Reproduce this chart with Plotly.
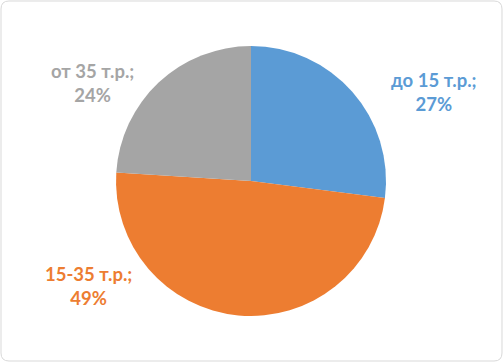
import plotly.graph_objects as go

categories = ["до 15 т.р.", "15-35 т.р.", "от 35 т.р."]
values = [27, 49, 24]
colors = ["#5B9BD5", "#ED7D31", "#A5A5A5"]
label_pos = [(434, 92), (88, 286), (92, 83)]  # pixel centres of label blocks

W, H = 503, 362
fig = go.Figure()
fig.add_trace(go.Pie(
    labels=categories, values=values, sort=False, direction="clockwise",
    rotation=0, textinfo="none", hoverinfo="label+percent",
    marker=dict(colors=colors, line=dict(width=0)),
    domain=dict(x=[(251 - 135) / W, (251 + 135) / W], y=[0.5 - 135 / H, 0.5 + 135 / H]),
    showlegend=False,
))

total = sum(values)
for cat, v, c, (px, py) in zip(categories, values, colors, label_pos):
    fig.add_annotation(
        x=px / W, y=1 - py / H, xref="paper", yref="paper",
        xanchor="center", yanchor="middle",
        text=f"<b>{cat};<br>{round(100 * v / total)}%</b>",
        showarrow=False, align="center",
        font=dict(family="Lato, Open Sans, sans-serif", size=18.5, color=c),
    )

# rounded frame (pixel coords -> paper)
def P(x, y):
    return f"{x / W:.5f},{1 - y / H:.5f}"

x0, y0, x1, y1, r = 1, 1, 502, 361, 8
path = (f"M {P(x0 + r, y0)} L {P(x1 - r, y0)} Q {P(x1, y0)} {P(x1, y0 + r)} "
        f"L {P(x1, y1 - r)} Q {P(x1, y1)} {P(x1 - r, y1)} "
        f"L {P(x0 + r, y1)} Q {P(x0, y1)} {P(x0, y1 - r)} "
        f"L {P(x0, y0 + r)} Q {P(x0, y0)} {P(x0 + r, y0)} Z")
fig.add_shape(type="path", xref="paper", yref="paper", path=path,
              line=dict(color="#D9D9D9", width=1))

fig.update_layout(
    width=W, height=H, margin=dict(l=0, r=0, t=0, b=0),
    paper_bgcolor="white", plot_bgcolor="white",
)
fig.write_html(
    "out.html",
    config={"displayModeBar": False},
    post_script="document.body.style.margin='0';document.body.style.overflow='hidden';",
)
